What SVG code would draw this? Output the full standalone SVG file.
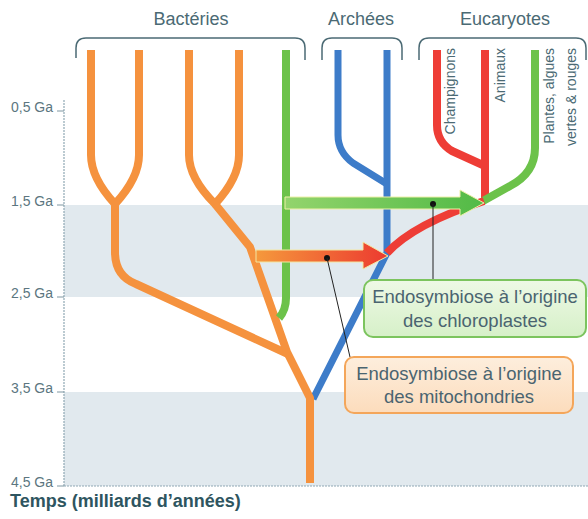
<svg xmlns="http://www.w3.org/2000/svg" width="588" height="519" viewBox="0 0 588 519">
  <style>
    text { font-family: "Liberation Sans", Arial, sans-serif; }
    .hdr { font-size: 18px; fill: #4b6a74; text-anchor: middle; }
    .ax { font-size: 14px; fill: #5b7680; text-anchor: end; }
    .vt { font-size: 14px; fill: #4b6a74; text-anchor: end; }
    .cl { font-size: 18.5px; fill: #4a6470; text-anchor: middle; }
    .br { fill: none; stroke: #4b6a74; stroke-width: 1.5; }
    .o { fill: none; stroke: #f5923e; stroke-width: 8; stroke-linejoin: round; }
    .b { fill: none; stroke: #3d7cc9; stroke-width: 7; stroke-linejoin: round; }
    .g { fill: none; stroke: #6cc24a; stroke-width: 8; stroke-linejoin: round; }
    .r { fill: none; stroke: #ee3d36; stroke-width: 8; stroke-linejoin: round; }
    .lead { stroke: #222; stroke-width: 1; fill: none; }
  </style>
  <defs>
    <linearGradient id="gArrow" x1="0" y1="0" x2="1" y2="0">
      <stop offset="0" stop-color="#93d46c"/>
      <stop offset="1" stop-color="#52ba46"/>
    </linearGradient>
    <linearGradient id="rArrow" x1="0" y1="0" x2="1" y2="0">
      <stop offset="0" stop-color="#f5993c"/>
      <stop offset="1" stop-color="#ec3a30"/>
    </linearGradient>
    <linearGradient id="gBox" x1="0" y1="0" x2="0" y2="1">
      <stop offset="0" stop-color="#eef9e6"/>
      <stop offset="1" stop-color="#d6f0c8"/>
    </linearGradient>
    <linearGradient id="oBox" x1="0" y1="0" x2="0" y2="1">
      <stop offset="0" stop-color="#fdeedd"/>
      <stop offset="1" stop-color="#fcdcbc"/>
    </linearGradient>
  </defs>

  <!-- background bands -->
  <g id="bands">
    <rect x="64" y="205" width="524" height="92" fill="#e1e9ee"/>
    <rect x="64" y="392" width="524" height="94" fill="#e1e9ee"/>
  </g>

  <!-- time axis -->
  <g id="axis">
    <line x1="64" y1="100" x2="64" y2="486" stroke="#8fa8b4" stroke-width="1.2" stroke-dasharray="2 1"/>
    <line x1="64" y1="486" x2="588" y2="486" stroke="#8fa8b4" stroke-width="1.2" stroke-dasharray="2 1"/>
    <g stroke="#7f97a2" stroke-width="1">
      <line x1="57" y1="111" x2="64" y2="111"/>
      <line x1="57" y1="205" x2="64" y2="205"/>
      <line x1="57" y1="297" x2="64" y2="297"/>
      <line x1="57" y1="392" x2="64" y2="392"/>
      <line x1="57" y1="486" x2="64" y2="486"/>
    </g>
    <text class="ax" x="53" y="112">0,5 Ga</text>
    <text class="ax" x="53" y="206">1,5 Ga</text>
    <text class="ax" x="53" y="298">2,5 Ga</text>
    <text class="ax" x="53" y="393">3,5 Ga</text>
    <text class="ax" x="53" y="487">4,5 Ga</text>
    <text x="10" y="507" font-size="18" font-weight="bold" fill="#2e5560">Temps (milliards d’années)</text>
  </g>

  <!-- group headers -->
  <g id="bacteries">
    <text class="hdr" x="191" y="25">Bactéries</text>
    <path class="br" d="M76,58 V48 Q76,38 86,38 H295 Q305,38 305,48 V60"/>
  </g>
  <g id="archees">
    <text class="hdr" x="361" y="25">Archées</text>
    <path class="br" d="M322,60 V48 Q322,38 332,38 H392 Q402,38 402,48 V60"/>
  </g>
  <g id="eucaryotes">
    <text class="hdr" x="505" y="25">Eucaryotes</text>
    <path class="br" d="M419,60 V48 Q419,38 429,38 H576 Q586,38 586,48 V60"/>
  </g>

  <!-- tree branches -->
  <g id="connectors">
    <!-- blue archaea -->
    <path class="b" d="M338,50 V135 Q338,152 353,163 L387,184"/>
    <path class="b" d="M387,50 V253 L313,399"/>
    <!-- orange bacteria -->
    <path class="o" d="M91,50 V155 Q91,178 115,204 Q139,178 139,155 V50"/>
    <path class="o" d="M115,204 V252 Q115,276 136,284 L288,354"/>
    <path class="o" d="M189,50 V155 Q189,178 215,204 Q239,178 239,155 V50"/>
    <path class="o" d="M215,204 L250,247 L287,352 L310,398 V483"/>
    <!-- green cyanobacteria -->
    <path class="g" d="M286,50 V298 Q286,310 279,318"/>
    <!-- eukaryotes -->
    <path class="r" d="M437,50 V125 Q437,142 452,151 L485,166"/>
    <path class="r" d="M485,50 V200"/>
    <path class="g" d="M535,50 V148 Q535,173 510,186 L483,201"/>
    <path class="r" d="M484,201 C450,212 410,228 387,253"/>
  </g>

  <!-- endosymbiosis arrows -->
  <g id="arrow-chloroplastes">
    <path d="M285,197 H460 V190 L484,203 L460,216 V209 H285 Z" fill="url(#gArrow)" stroke="#eef0a8" stroke-width="1"/>
    <circle cx="433" cy="204" r="3" fill="#111"/>
    <line class="lead" x1="433" y1="204" x2="433" y2="280"/>
  </g>
  <g id="arrow-mitochondries">
    <path d="M256,250 H363 V242 L388,256 L363,269 V262 H256 Z" fill="url(#rArrow)" stroke="#f4e6a0" stroke-width="1"/>
    <circle cx="327" cy="258" r="3" fill="#111"/>
    <line class="lead" x1="327" y1="258" x2="350" y2="357"/>
  </g>

  <!-- vertical eukaryote labels -->
  <g id="label-champignons">
    <text class="vt" transform="translate(455,48) rotate(-90)">Champignons</text>
  </g>
  <g id="label-animaux">
    <text class="vt" transform="translate(505,48) rotate(-90)">Animaux</text>
  </g>
  <g id="label-plantes">
    <text class="vt" transform="translate(554,48) rotate(-90)">Plantes, algues</text>
    <text class="vt" transform="translate(576,48) rotate(-90)">vertes &amp; rouges</text>
  </g>

  <!-- callouts -->
  <g id="callout-chloroplastes">
    <rect x="364" y="280" width="222" height="57" rx="9" fill="url(#gBox)" stroke="#7cc45e" stroke-width="2"/>
    <text class="cl" x="475" y="303">Endosymbiose à l’origine</text>
    <text class="cl" x="475" y="327">des chloroplastes</text>
  </g>
  <g id="callout-mitochondries">
    <rect x="345" y="357" width="228" height="56" rx="9" fill="url(#oBox)" stroke="#f4a65a" stroke-width="2"/>
    <text class="cl" x="459" y="380">Endosymbiose à l’origine</text>
    <text class="cl" x="459" y="403">des mitochondries</text>
  </g>
</svg>
